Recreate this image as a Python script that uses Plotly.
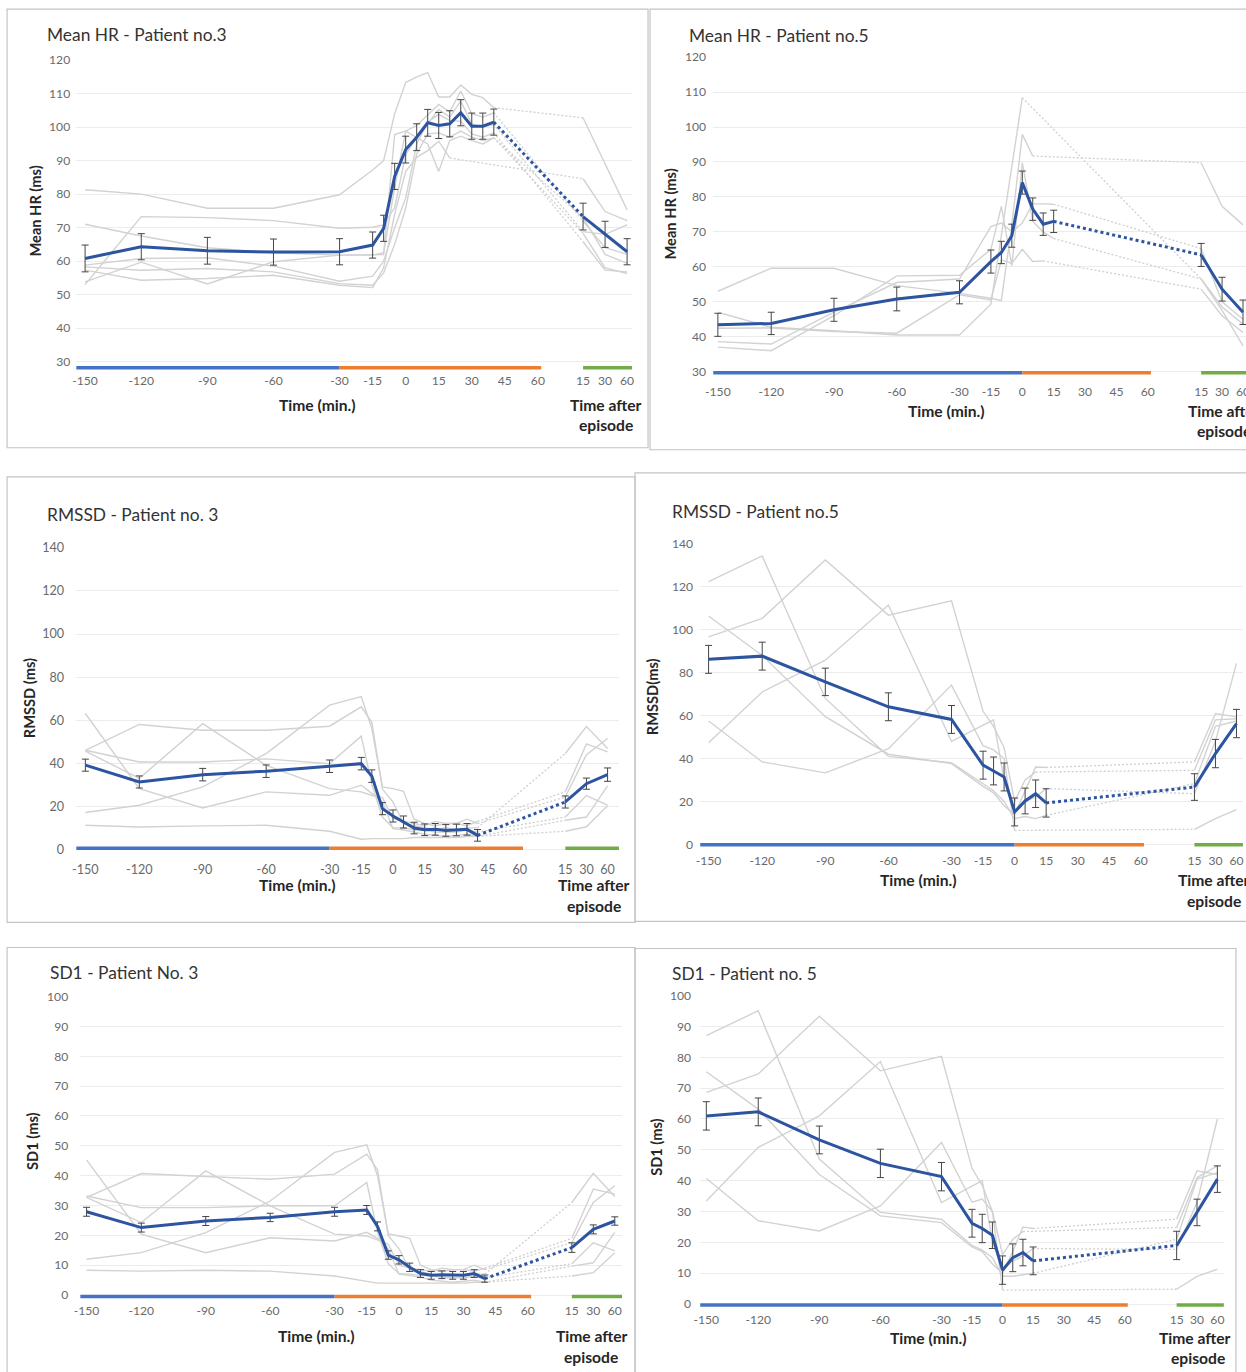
import numpy as np
import plotly.graph_objects as go

# All positions below are screen pixels of a 1246 x 1372 window.  The page keeps
# the browser's 8 px body margin and is captured slightly larger than the window,
# so screen pixels are converted to figure pixels with SCREEN_SCALE.
WIN_W, WIN_H = 1246, 1372
PAGE_MARGIN = 8
SCREEN_SCALE = 0.9905
W = round(WIN_W / SCREEN_SCALE) - PAGE_MARGIN
H = round(WIN_H / SCREEN_SCALE) - PAGE_MARGIN
FONT = "Lato, 'Open Sans', Arial, sans-serif"

# ---------------------------------------------------------------- time axes
TIME_P3 = [-150, -120, -90, -60, -30, -15, -10, -5, 0, 5, 10, 15, 20, 25, 30, 35, 40]
TIME_P5 = [-150, -120, -90, -60, -30, -15, -10, -5, 0, 5, 10, 15]
TIME_AFTER = [15, 30, 60]
TICKS_MAIN = [-150, -120, -90, -60, -30, -15, 0, 15, 30, 45, 60]

# phase boundaries (minutes relative to episode)
EPISODE_START_P3 = -30
EPISODE_START_P5 = 0
EPISODE_END = 60

# ---------------------------------------------------------------- Mean HR, patient 3
HR3_MEAN = [60.8, 64.3, 63.1, 62.7, 62.8, 64.8, 69.8, 85.3, 93.3, 97.0, 101.3, 100.5, 101.0, 104.3, 100.3, 100.3, 101.5]
HR3_SD = [4.0, 3.9, 4.0, 3.9, 3.9, 3.9, 3.9, 3.9, 4.0, 4.0, 4.0, 3.9, 3.9, 3.9, 3.9, 3.9, 3.9]
HR3_MEAN_AFTER = [73.3, 68.0, 62.8]
HR3_SD_AFTER = [4.0, 3.9, 3.9]
HR3_EPISODES = [
    [81.3, 80.0, 75.8, 75.8, 79.8, 87.2, 90.0, 104.0, 113.3, 115.0, 116.3, 109.0, 109.0, 112.6, 109.8, 108.8, 105.8],
    [71.0, 67.5, 64.0, 62.5, 61.8, 61.8, 62.0, 97.8, 98.8, 100.5, 103.5, 106.8, 104.5, 110.8, 104.0, 103.0, 104.3],
    [53.0, 73.3, 73.0, 72.1, 69.8, 70.1, 70.8, 76.0, 91.8, 97.0, 101.0, 105.3, 103.0, 107.8, 101.0, 100.0, 100.8],
    [58.8, 60.8, 61.0, 58.5, 54.0, 55.5, 60.0, 70.0, 78.8, 95.0, 101.5, 103.8, 102.0, 101.8, 98.0, 97.0, 98.3],
    [57.3, 54.3, 54.8, 55.8, 52.8, 52.1, 58.0, 74.0, 86.8, 91.0, 93.0, 95.8, 90.8, None, None, None, None],
    [53.8, 59.7, 53.2, 59.8, 61.8, 61.8, 62.5, 82.0, 98.8, 97.0, 95.0, 86.8, 96.0, 97.3, 96.0, 95.0, 96.8],
    [58.3, 57.3, 57.8, 56.8, 53.3, 52.8, 56.5, 65.0, 75.8, 92.0, 98.0, 98.3, 97.0, 98.8, 97.0, 96.0, 96.8],
]
HR3_EPISODES_AFTER = [
    [102.8, 88.8, 75.3],
    [72.0, 64.0, 62.0],
    [68.8, 68.0, 70.8],
    [65.8, 57.3, 56.8],
    [84.6, 74.8, 72.1],
    [73.0, 62.0, 59.3],
    [68.3, 58.0, 56.3],
]

# ---------------------------------------------------------------- Mean HR, patient 5
HR5_MEAN = [43.4, 43.8, 47.7, 50.8, 52.7, 61.5, 64.1, 68.9, 84.1, 76.5, 72.2, 73.0]
HR5_SD = [3.3, 3.2, 3.3, 3.4, 3.3, 3.3, 3.2, 3.3, 3.3, 3.2, 3.2, 3.2]
HR5_MEAN_AFTER = [63.4, 53.6, 47.0]
HR5_SD_AFTER = [3.3, 3.4, 3.5]
HR5_EPISODES = [
    [53.0, 59.6, 59.6, 54.6, 52.4, 51.0, 50.3, 72.0, 97.9, 91.7, None, None],
    [47.0, 42.7, 41.7, 40.5, 40.5, 49.3, 69.0, 89.0, 108.4, None, None, None],
    [38.6, 37.9, 47.0, 55.5, 56.5, 71.5, 72.5, 70.0, 72.5, 78.0, 78.0, 77.9],
    [37.0, 36.0, 46.0, 57.4, 57.6, 65.0, 77.3, 60.3, 89.8, 73.0, 70.0, 68.1],
    [42.4, 42.5, 41.5, 41.0, 52.0, 50.5, 62.0, 61.0, 65.0, 61.5, 61.7, None],
]
HR5_EPISODES_AFTER = [
    [89.8, 77.3, 72.0],
    [56.5, 47.5, 37.4],
    [65.2, 50.0, 45.0],
    [56.5, 48.5, 43.6],
    [53.6, 46.0, 41.2],
]

# ---------------------------------------------------------------- RMSSD, patient 3
RM3_MEAN = [39.1, 31.3, 34.7, 36.3, 38.6, 39.8, 34.0, 18.9, 15.5, 12.7, 9.9, 9.1, 9.3, 8.8, 9.0, 9.3, 6.5]
RM3_SD = [2.8, 2.8, 2.9, 2.9, 2.9, 2.9, 2.9, 2.8, 2.8, 2.8, 2.7, 2.7, 2.7, 2.7, 2.7, 2.7, 2.7]
RM3_MEAN_AFTER = [22.0, 30.5, 34.7]
RM3_SD_AFTER = [2.8, 2.6, 3.1]
RM3_EPISODES = [
    [63.1, 28.2, 19.2, 26.7, 25.1, 29.8, 26.0, 22.0, 9.6, 9.0, 8.0, 7.0, 6.5, 6.0, 6.5, 7.0, 6.0],
    [46.0, 58.0, 55.3, 55.3, 57.2, 66.2, 59.0, 28.0, 22.0, 12.0, 11.0, 10.0, 9.0, 10.0, 9.0, 10.0, 10.0],
    [17.1, 20.5, 29.0, 44.5, 67.0, 70.9, 56.0, 29.0, 28.2, 27.0, 14.0, 12.0, 11.0, 12.0, 12.0, 11.0, 13.0],
    [45.6, 33.0, 58.4, 39.0, 28.2, 26.7, 25.0, 24.0, 14.3, 13.0, 12.0, 11.0, 13.0, 12.0, 12.0, 14.0, 12.0],
    [46.0, 40.6, 40.6, 42.0, 39.8, 52.6, 30.0, 15.0, 10.0, 10.0, 9.0, 9.0, 8.0, 8.0, 8.0, 9.0, 8.0],
    [11.2, 10.4, 10.9, 11.2, 8.4, 4.7, 5.0, 5.0, 5.0, 5.0, 5.5, 5.5, 5.5, 5.5, 5.5, 6.0, 6.0],
]
RM3_EPISODES_AFTER = [
    [13.5, 15.0, 29.5],
    [44.5, 57.0, 46.8],
    [26.7, 49.0, 45.3],
    [24.3, 44.0, 51.5],
    [15.0, 25.0, 20.5],
    [8.4, 10.5, 20.2],
]

# ---------------------------------------------------------------- RMSSD, patient 5
RM5_MEAN = [86.2, 87.7, 75.7, 64.1, 58.2, 36.9, 34.2, 31.4, 15.1, 20.2, 23.6, 19.3]
RM5_SD = [6.5, 6.5, 6.4, 6.5, 6.5, 6.5, 6.5, 6.5, 6.5, 6.0, 6.4, 6.6]
RM5_MEAN_AFTER = [26.7, 42.3, 56.3]
RM5_SD_AFTER = [6.2, 6.6, 6.6]
RM5_EPISODES = [
    [122.4, 134.4, 68.0, 41.0, 38.0, 28.0, 25.0, 20.0, 12.0, 13.0, 12.0, 13.5],
    [106.4, 88.0, 59.5, 42.0, 37.6, 27.0, 24.0, 18.0, 14.0, 25.0, 36.0, 35.8],
    [96.7, 105.3, 132.5, 106.8, 113.5, 62.0, 55.0, 45.0, 20.0, 30.0, 33.7, None],
    [57.5, 38.4, 33.3, 44.6, 74.2, 46.0, 44.0, 40.0, 6.5, None, None, None],
    [47.3, 71.0, 85.8, 111.5, 48.0, 55.5, 58.0, 30.0, 16.0, 20.0, 22.0, 26.0],
]
RM5_EPISODES_AFTER = [
    [28.3, 55.0, 57.5],
    [38.4, 61.0, 59.4],
    [34.5, 58.0, 58.5],
    [7.0, 12.0, 16.2],
    [23.6, 48.0, 84.3],
]

# ---------------------------------------------------------------- SD1, patient 3
SD3_MEAN = [27.9, 22.6, 24.8, 26.0, 27.9, 28.5, 23.0, 13.4, 11.8, 9.3, 7.2, 6.6, 6.8, 6.6, 6.6, 7.2, 5.5]
SD3_SD = [1.5, 1.5, 1.5, 1.4, 1.5, 1.5, 1.5, 1.4, 1.4, 1.4, 1.3, 1.3, 1.3, 1.3, 1.3, 1.3, 1.2]
SD3_MEAN_AFTER = [15.9, 22.0, 24.8]
SD3_SD_AFTER = [1.6, 1.5, 1.4]
SD3_EPISODES = [
    [45.3, 20.4, 14.2, 19.2, 18.1, 21.0, 19.0, 15.5, 7.0, 6.5, 6.0, 5.0, 4.6, 4.3, 4.6, 5.0, 4.3],
    [32.7, 40.7, 39.7, 38.8, 40.5, 47.2, 42.0, 20.0, 15.5, 8.5, 7.8, 7.0, 6.5, 7.0, 6.5, 7.0, 7.0],
    [12.0, 14.2, 20.9, 31.5, 47.8, 50.3, 40.0, 20.5, 19.8, 19.0, 10.0, 8.5, 7.8, 8.5, 8.5, 8.0, 9.0],
    [32.7, 24.3, 41.6, 29.9, 20.4, 19.8, 18.5, 17.0, 10.0, 9.0, 8.5, 8.0, 9.0, 8.5, 8.5, 10.0, 8.5],
    [33.2, 29.3, 29.3, 29.9, 29.9, 37.7, 21.0, 10.5, 7.2, 7.0, 6.5, 6.5, 5.8, 5.8, 5.8, 6.3, 5.8],
    [8.3, 8.0, 8.3, 8.0, 6.4, 4.7, 4.0, 4.0, 4.0, 4.0, 4.0, 4.0, 4.0, 4.0, 4.0, 4.3, 4.3],
]
SD3_EPISODES_AFTER = [
    [9.7, 10.8, 21.0],
    [31.0, 40.8, 33.0],
    [19.0, 35.5, 33.8],
    [17.6, 31.0, 36.6],
    [10.5, 17.5, 14.8],
    [6.4, 7.5, 14.2],
]

# ---------------------------------------------------------------- SD1, patient 5
SD5_MEAN = [61.0, 62.3, 53.2, 45.6, 41.3, 26.2, 24.5, 22.3, 11.0, 15.0, 16.7, 14.0]
SD5_SD = [4.6, 4.5, 4.5, 4.6, 4.6, 4.5, 4.6, 4.3, 4.6, 4.5, 4.3, 4.5]
SD5_MEAN_AFTER = [19.0, 29.7, 40.5]
SD5_SD_AFTER = [4.6, 4.3, 4.3]
SD5_EPISODES = [
    [87.0, 95.1, 47.0, 29.7, 27.5, 19.0, 17.5, 15.0, 9.0, 9.0, 9.5, 10.0],
    [75.3, 63.2, 42.0, 28.6, 26.4, 18.5, 17.0, 13.0, 10.0, 17.0, 25.0, 24.5],
    [68.6, 74.6, 93.3, 75.6, 80.3, 44.0, 38.5, 30.0, 16.0, 21.0, 23.5, None],
    [40.7, 27.0, 23.7, 31.8, 52.4, 33.0, 34.0, 30.0, 4.5, None, None, None],
    [33.4, 50.8, 61.0, 78.6, 32.9, 38.3, 40.0, 20.0, 11.0, 14.0, 15.5, 18.0],
]
SD5_EPISODES_AFTER = [
    [21.0, 40.5, 42.6],
    [27.5, 43.2, 42.0],
    [24.8, 41.0, 44.8],
    [4.8, 9.0, 11.3],
    [17.7, 33.0, 60.0],
]

# ---------------------------------------------------------------- styles
BLUE = "#2c54a0"
ERR = "#454545"
GRAY = "#d2d2d2"
GRID = "#ececec"
PHASE_COLORS = ["#4472c4", "#ed7d31", "#70ad47"]
TICK_COLOR = "#6a6a6a"


def main_pos(t):
    """Axis position of a pre/during-episode time; the first 30-min step is drawn shorter."""
    return float(np.interp(t, [-150, -120, 60], [-145.5, -120, 60]))


def after_pos(start):
    """Axis positions of the after-episode categories (equally spaced)."""
    return [start + 10 * i for i in range(len(TIME_AFTER))]


# Panel geometry in screen pixels: x domain, pixel of the -30 tick and px per minute,
# y domain and two reference ticks (value, pixel).
PANELS = [
    dict(title="Mean HR - Patient no.3", ytitle="Mean HR (ms)",
         times=TIME_P3, mean=HR3_MEAN, sd=HR3_SD, mean_after=HR3_MEAN_AFTER, sd_after=HR3_SD_AFTER,
         ind=HR3_EPISODES, ind_after=HR3_EPISODES_AFTER, ep_start=EPISODE_START_P3,
         after_start=80.5, xdom=(76, 631), xref=(339, 2.2),
         ydom=(60, 372), ymap=((120, 61), (30, 362)), yticks=(30, 120, 10), bar_px=368,
         box=(7, 10, 647, 448), title_xy=(45, 35), ytitle_xy=(35, 212),
         xtitle_xy=(317, 405), after_xy=((605, 405), (605, 425)),
         ystand=5, xstand=0, tick_size=12),
    dict(title="Mean HR - Patient no.5", ytitle="Mean HR (ms)",
         times=TIME_P5, mean=HR5_MEAN, sd=HR5_SD, mean_after=HR5_MEAN_AFTER, sd_after=HR5_SD_AFTER,
         ind=HR5_EPISODES, ind_after=HR5_EPISODES_AFTER, ep_start=EPISODE_START_P5,
         after_start=85.5, xdom=(712, 1250), xref=(958, 2.089),
         ydom=(57, 376), ymap=((120, 58), (30, 372)), yticks=(30, 120, 10), bar_px=373,
         box=(649, 10, 1256, 450), title_xy=(686, 36), ytitle_xy=(669, 215),
         xtitle_xy=(945, 411), after_xy=((1222, 411), (1222, 431)),
         ystand=6, xstand=7, tick_size=12),
    dict(title="RMSSD - Patient no. 3", ytitle="RMSSD (ms)",
         times=TIME_P3, mean=RM3_MEAN, sd=RM3_SD, mean_after=RM3_MEAN_AFTER, sd_after=RM3_SD_AFTER,
         ind=RM3_EPISODES, ind_after=RM3_EPISODES_AFTER, ep_start=EPISODE_START_P3,
         after_start=81.5, xdom=(76, 618), xref=(329, 2.111),
         ydom=(547, 852), ymap=((140, 548), (0, 849)), yticks=(0, 140, 20), bar_px=848,
         box=(7, 477, 634, 922), title_xy=(45, 515), ytitle_xy=(29, 698),
         xtitle_xy=(297, 885), after_xy=((593, 885), (593, 906)),
         ystand=11, xstand=8, tick_size=12.5),
    dict(title="RMSSD - Patient no.5", ytitle="RMSSD(ms)",
         times=TIME_P5, mean=RM5_MEAN, sd=RM5_SD, mean_after=RM5_MEAN_AFTER, sd_after=RM5_SD_AFTER,
         ind=RM5_EPISODES, ind_after=RM5_EPISODES_AFTER, ep_start=EPISODE_START_P5,
         after_start=85.5, xdom=(699, 1241), xref=(950, 2.1),
         ydom=(543, 847), ymap=((140, 544), (0, 844)), yticks=(0, 140, 20), bar_px=844.5,
         box=(634, 473, 1256, 921), title_xy=(669, 512), ytitle_xy=(651, 697),
         xtitle_xy=(917, 880), after_xy=((1212, 880), (1212, 901)),
         ystand=6, xstand=5, tick_size=12),
    dict(title="SD1 - Patient No. 3", ytitle="SD1 (ms)",
         times=TIME_P3, mean=SD3_MEAN, sd=SD3_SD, mean_after=SD3_MEAN_AFTER, sd_after=SD3_SD_AFTER,
         ind=SD3_EPISODES, ind_after=SD3_EPISODES_AFTER, ep_start=EPISODE_START_P3,
         after_start=80.5, xdom=(80, 621), xref=(334, 2.144),
         ydom=(995, 1298), ymap=((100, 996), (0, 1294)), yticks=(0, 100, 10), bar_px=1295.5,
         box=(7, 947, 634, 1385), title_xy=(48, 972), ytitle_xy=(33, 1140),
         xtitle_xy=(316, 1335), after_xy=((591, 1335), (590, 1356)),
         ystand=11, xstand=3, tick_size=12),
    dict(title="SD1 - Patient no. 5", ytitle="SD1 (ms)",
         times=TIME_P5, mean=SD5_MEAN, sd=SD5_SD, mean_after=SD5_MEAN_AFTER, sd_after=SD5_SD_AFTER,
         ind=SD5_EPISODES, ind_after=SD5_EPISODES_AFTER, ep_start=EPISODE_START_P5,
         after_start=85.5, xdom=(699, 1222), xref=(940, 2.033),
         ydom=(994, 1307), ymap=((100, 995), (0, 1303)), yticks=(0, 100, 10), bar_px=1304,
         box=(634, 948, 1234, 1385), title_xy=(669, 973), ytitle_xy=(656, 1146),
         xtitle_xy=(927, 1337), after_xy=((1193, 1337), (1196, 1357)),
         ystand=8, xstand=3, tick_size=12),
]


def px(x):
    """Screen pixel -> paper x."""
    return (x / SCREEN_SCALE - PAGE_MARGIN) / W


def py(y):
    """Screen pixel -> paper y."""
    return 1 - (y / SCREEN_SCALE - PAGE_MARGIN) / H


def fs(size):
    """Screen font size -> figure font size."""
    return size / SCREEN_SCALE


fig = go.Figure()
layout = {}
annotations = []
shapes = []

for i, p in enumerate(PANELS):
    n = i + 1
    xa, ya = ("x", "y") if n == 1 else (f"x{n}", f"y{n}")
    xkey, ykey = ("xaxis", "yaxis") if n == 1 else (f"xaxis{n}", f"yaxis{n}")

    # axis ranges from the pixel geometry
    a_px, s = p["xref"]
    x_lo = -30 + (p["xdom"][0] - a_px) / s
    x_hi = -30 + (p["xdom"][1] - a_px) / s
    (v1, p1), (v2, p2) = p["ymap"]
    ppu = (p2 - p1) / (v1 - v2)
    y_lo = v2 - (p["ydom"][1] - p2) / ppu
    y_hi = v1 + (p1 - p["ydom"][0]) / ppu
    bar_y = v2 - (p["bar_px"] - p2) / ppu

    # clip the x domain to the figure and shrink the range with it
    d0, d1 = px(p["xdom"][0]), px(p["xdom"][1])
    if d1 > 1.0:
        x_hi = x_lo + (x_hi - x_lo) * (1.0 - d0) / (d1 - d0)
        d1 = 1.0

    xs_main = [main_pos(t) for t in p["times"]]
    xs_after = after_pos(p["after_start"])

    # phase bars along the bottom of the plot
    phases = [
        ([x_lo, main_pos(p["ep_start"])], PHASE_COLORS[0]),
        ([main_pos(p["ep_start"]), main_pos(EPISODE_END) + 1.5], PHASE_COLORS[1]),
        ([xs_after[0], x_hi], PHASE_COLORS[2]),
    ]
    for xx, col in phases:
        fig.add_trace(go.Scatter(x=xx, y=[bar_y, bar_y], mode="lines",
                                 line=dict(color=col, width=3.5), xaxis=xa, yaxis=ya,
                                 hoverinfo="skip"))

    # individual episodes (grey)
    sx, sy, dx, dy = [], [], [], []
    for vals, after in zip(p["ind"], p["ind_after"]):
        pts = [(x, v) for x, v in zip(xs_main, vals) if v is not None]
        sx += [q[0] for q in pts] + [None] + xs_after + [None]
        sy += [q[1] for q in pts] + [None] + after + [None]
        dx += [pts[-1][0], xs_after[0], None]
        dy += [pts[-1][1], after[0], None]
    fig.add_trace(go.Scatter(x=dx, y=dy, mode="lines", xaxis=xa, yaxis=ya,
                             line=dict(color="#cfcfcf", width=1.3, dash="2px,2px"),
                             hoverinfo="skip"))
    fig.add_trace(go.Scatter(x=sx, y=sy, mode="lines", xaxis=xa, yaxis=ya,
                             line=dict(color=GRAY, width=1.4), hoverinfo="skip"))

    # mean with error bars
    err = dict(type="data", color=ERR, thickness=1, width=3.5)
    fig.add_trace(go.Scatter(x=[xs_main[-1], xs_after[0]], y=[p["mean"][-1], p["mean_after"][0]],
                             mode="lines", xaxis=xa, yaxis=ya,
                             line=dict(color=BLUE, width=3, dash="dot")))
    fig.add_trace(go.Scatter(x=xs_main, y=p["mean"], mode="lines", xaxis=xa, yaxis=ya,
                             line=dict(color=BLUE, width=3),
                             error_y=dict(array=p["sd"], **err)))
    fig.add_trace(go.Scatter(x=xs_after, y=p["mean_after"], mode="lines", xaxis=xa, yaxis=ya,
                             line=dict(color=BLUE, width=3),
                             error_y=dict(array=p["sd_after"], **err)))

    tickvals = [main_pos(t) for t in TICKS_MAIN] + xs_after
    ticktext = [str(t) for t in TICKS_MAIN] + [str(t) for t in TIME_AFTER]
    y0, y1, dy_t = p["yticks"]

    layout[xkey] = dict(domain=[max(0.0, d0), d1],
                        range=[x_lo, x_hi], anchor=ya, tickvals=tickvals, ticktext=ticktext,
                        showgrid=False, zeroline=False, showline=False, ticks="",
                        ticklabelstandoff=p["xstand"], ticklabeloverflow="allow",
                        tickfont=dict(family=FONT, size=fs(p["tick_size"]), color=TICK_COLOR))
    layout[ykey] = dict(domain=[max(0.0, py(p["ydom"][1])), min(1.0, py(p["ydom"][0]))],
                        range=[y_lo, y_hi], anchor=xa,
                        tickvals=list(range(y0, y1 + 1, dy_t)),
                        showgrid=True, gridcolor=GRID, gridwidth=1,
                        zeroline=False, showline=False, ticks="",
                        ticklabelstandoff=p["ystand"],
                        tickfont=dict(family=FONT, size=fs(p["tick_size"]), color=TICK_COLOR))

    # frame around the panel
    bx0, by0, bx1, by1 = p["box"]
    shapes.append(dict(type="rect", xref="paper", yref="paper",
                       x0=px(bx0), x1=px(bx1), y0=py(by1), y1=py(by0),
                       line=dict(color="#c4c4c4", width=1.2), fillcolor="rgba(0,0,0,0)"))

    def ann(text, xy, size, bold=False, xanchor="center", angle=0, color="#262626"):
        annotations.append(dict(
            text=f"<b>{text}</b>" if bold else text, x=px(xy[0]), y=py(xy[1]),
            xref="paper", yref="paper", showarrow=False, xanchor=xanchor, yanchor="middle",
            textangle=angle, font=dict(family=FONT, size=fs(size), color=color)))

    ann(p["title"], p["title_xy"], 17.2, xanchor="left", color="#333333")
    ann(p["ytitle"], p["ytitle_xy"], 14.5, bold=True, angle=-90)
    ann("Time (min.)", p["xtitle_xy"], 15.5, bold=True)
    ann("Time after", p["after_xy"][0], 15.5, bold=True)
    ann("episode", p["after_xy"][1], 15.5, bold=True)

fig.update_layout(
    width=W, height=H, margin=dict(l=0, r=0, t=0, b=0), autosize=False,
    paper_bgcolor="white", plot_bgcolor="white", showlegend=False,
    annotations=annotations, shapes=shapes, **layout,
)

fig.write_html("out.html")
